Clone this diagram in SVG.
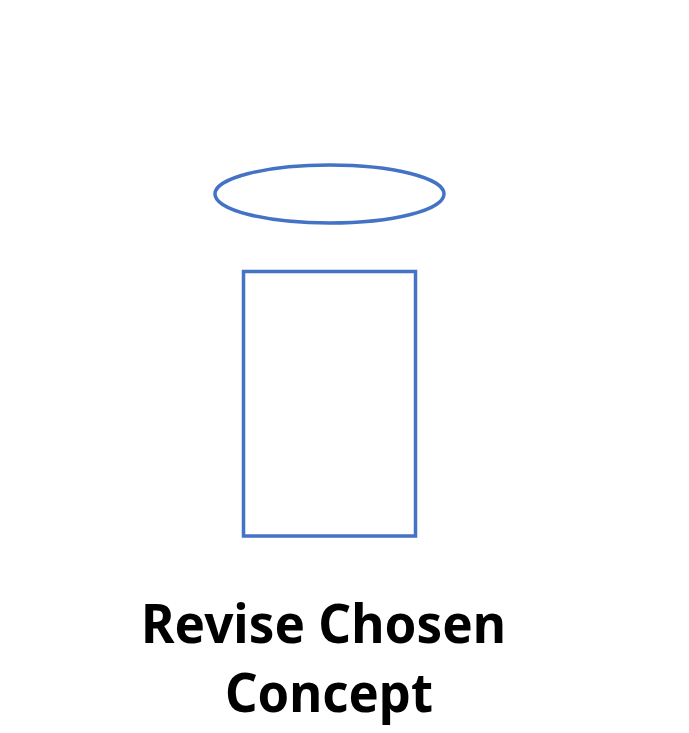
<svg xmlns="http://www.w3.org/2000/svg" width="689" height="733" viewBox="0 0 689 733">
<style>
.shape{fill:none;stroke:#4472C4;stroke-width:3.5}
.label{font-family:"Noto Sans","Open Sans","Liberation Sans",sans-serif;font-weight:bold;font-size:53px;fill:#000;text-anchor:middle}
</style>
<rect width="689" height="733" fill="#fff"/>
<g id="ellipse-node"><ellipse class="shape" cx="329.5" cy="194" rx="114.5" ry="29"/></g>
<g id="rect-node"><rect class="shape" x="243.5" y="271.5" width="172" height="264.5"/></g>
<g id="connectors"></g>
<g id="label"><text class="label" x="323.5" y="643" textLength="365" lengthAdjust="spacingAndGlyphs">Revise Chosen</text><text class="label" x="329" y="712" textLength="208" lengthAdjust="spacingAndGlyphs">Concept</text></g>
</svg>
